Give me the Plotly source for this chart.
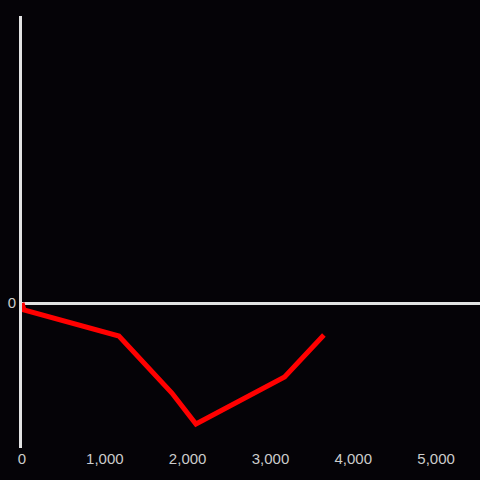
import plotly.graph_objects as go

distance = [0, 24, 1170, 1545, 1810, 2100, 3170, 3645]
change = [0, -7, -33, -67, -90, -121, -74, -32]
x_ticks = [0, 1000, 2000, 3000, 4000, 5000]
y_ticks = [0]

bg = "#050307"

fig = go.Figure()
fig.add_trace(go.Scatter(x=distance, y=change, mode="lines",
                         line=dict(color="#ff0000", width=5), hoverinfo="skip"))

fig.update_layout(
    width=480, height=480,
    margin=dict(l=22, r=0, t=16, b=32),
    paper_bgcolor=bg,
    plot_bgcolor=bg,
    showlegend=False,
    font=dict(family="Liberation Sans, Arial", size=15, color="#cccccc"),
)
fig.update_xaxes(range=[0, 5530], tickvals=x_ticks, tickformat=",d",
                 showgrid=False, zeroline=False, showline=False, ticks="")
fig.update_yaxes(range=[-145, 287], tickvals=y_ticks,
                 showgrid=False, showline=True, linecolor="#e2e2e2", linewidth=3,
                 zeroline=True, zerolinecolor="#e2e2e2", zerolinewidth=3, ticks="")

fig.write_html("out.html", config={"displayModeBar": False},
               post_script="document.body.style.margin='0';document.body.style.background='%s';" % bg)
